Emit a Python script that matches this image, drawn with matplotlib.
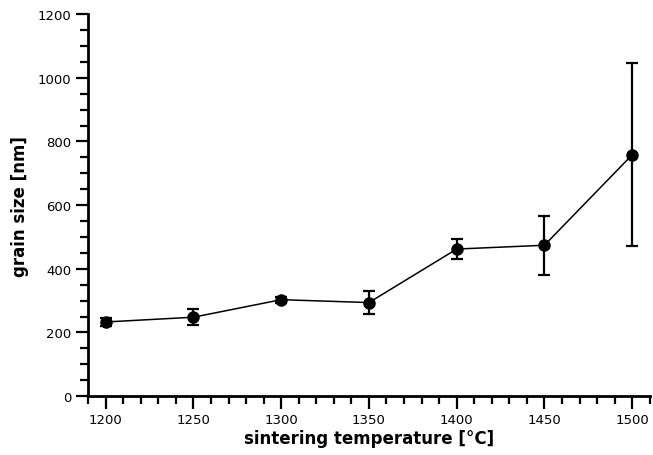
import matplotlib
matplotlib.use("Agg")
import matplotlib.pyplot as plt
from matplotlib.ticker import MultipleLocator

# sintering temperature vs. mean grain size with std deviation
temperature = [1200, 1250, 1300, 1350, 1400, 1450, 1500]
grain_size = [233, 248, 303, 294, 462, 474, 758]
grain_err = [12, 25, 10, 36, 31, 92, 287]

fig = plt.figure(figsize=(6.53, 4.56), dpi=100)
ax = fig.add_axes([0.135, 0.129, 0.86, 0.838])

ax.errorbar(temperature, grain_size, yerr=grain_err, color="black",
            marker="o", markersize=8, linewidth=1.1, elinewidth=1.6,
            capsize=4, capthick=1.6)

ax.set_xlim(1190, 1510)
ax.set_ylim(0, 1200)
ax.xaxis.set_major_locator(MultipleLocator(50))
ax.xaxis.set_minor_locator(MultipleLocator(10))
ax.yaxis.set_major_locator(MultipleLocator(200))
ax.yaxis.set_minor_locator(MultipleLocator(50))

for side in ("top", "right"):
    ax.spines[side].set_visible(False)
for side in ("left", "bottom"):
    ax.spines[side].set_linewidth(2)

ax.tick_params(which="major", direction="out", length=9, width=1.6,
               labelsize=9.5, pad=3)
ax.tick_params(which="minor", direction="out", length=5.5, width=1.6)

ax.set_xlabel("sintering temperature [°C]", fontsize=12, fontweight="bold",
              labelpad=2)
ax.set_ylabel("grain size [nm]", fontsize=12, fontweight="bold", labelpad=6)

fig.savefig("out.png", dpi=100)
